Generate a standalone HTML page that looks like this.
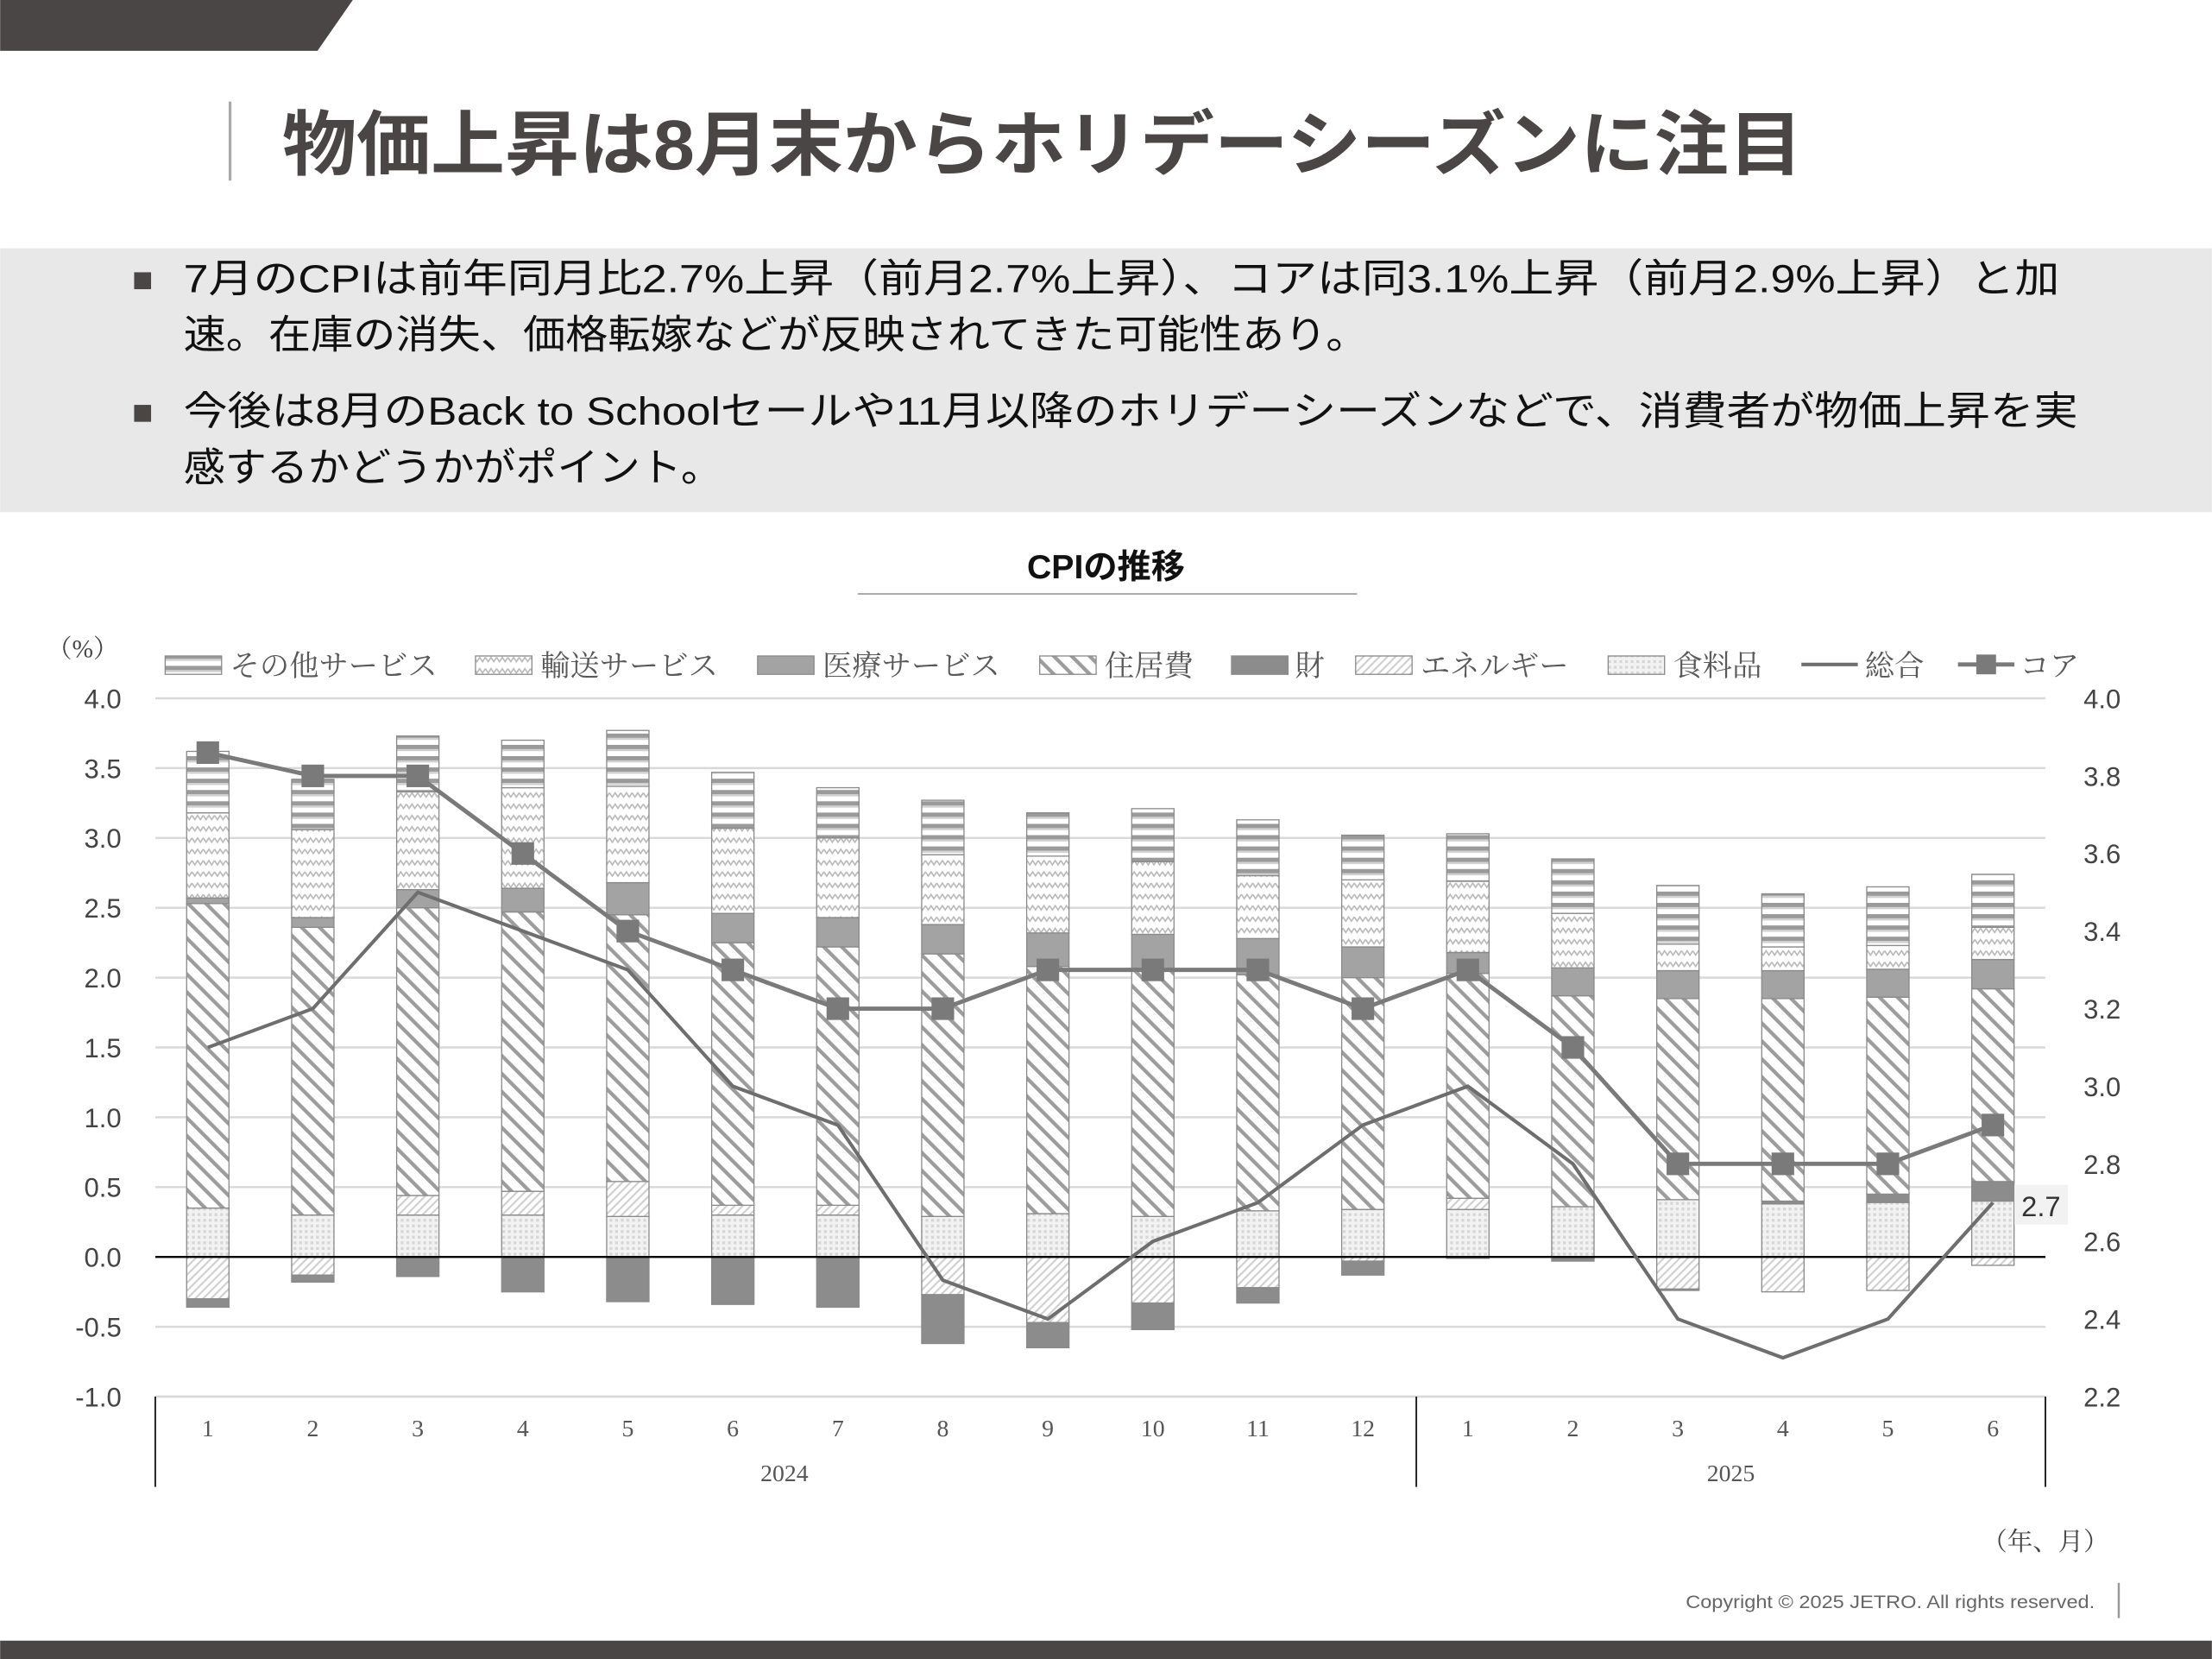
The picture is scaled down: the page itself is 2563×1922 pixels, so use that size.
<!DOCTYPE html>
<html><head><meta charset="utf-8"><style>
html,body{margin:0;padding:0;background:#fff;}
svg{display:block;}
.t{font-family:"Liberation Sans","Noto Sans CJK JP",sans-serif;}
.s{font-family:"Liberation Serif","Noto Serif CJK SC",serif;}
</style></head><body>
<svg id="c" width="2563" height="1922" viewBox="0 0 1568 1176" xmlns="http://www.w3.org/2000/svg">
<defs>
<pattern id="pOther" width="8" height="8" patternUnits="userSpaceOnUse"><rect width="8" height="8" fill="#fff"/><rect y="0" width="8" height="3" fill="#9a9a9a"/><rect y="3" width="8" height="1.5" fill="#d0d0d0"/></pattern>
<pattern id="pTrans" width="8" height="8" patternUnits="userSpaceOnUse"><rect width="8" height="8" fill="#fff"/><path d="M0,2 L2,5 L4,2 L6,5 L8,2" fill="none" stroke="#b8b8b8" stroke-width="1"/></pattern>
<pattern id="pShel" width="9" height="9" patternUnits="userSpaceOnUse" patternTransform="rotate(-45)"><rect width="9" height="9" fill="#fff"/><rect width="2.6" height="9" fill="#9c9c9c"/></pattern>
<pattern id="pEner" width="4" height="4" patternUnits="userSpaceOnUse" patternTransform="rotate(45)"><rect width="4" height="4" fill="#fff"/><rect width="1.3" height="4" fill="#cfcfcf"/></pattern>
<pattern id="pFood" width="4" height="4" patternUnits="userSpaceOnUse"><rect width="4" height="4" fill="#f2f2f2"/><rect width="2" height="2" fill="#d6d6d6"/></pattern>
</defs>
<polygon points="0,0 250,0 225,36 0,36" fill="#4a4646"/>
<line x1="163" y1="72" x2="163" y2="128" stroke="#aaa" stroke-width="2"/>
<text x="200" y="120" class="t" font-size="50" font-weight="bold" fill="#4a4646" textLength="1078" lengthAdjust="spacingAndGlyphs">物価上昇は8月末からホリデーシーズンに注目</text>
<rect x="0" y="176" width="1568" height="187" fill="#e8e8e8"/>
<rect x="95" y="193" width="12" height="12" fill="#4a4646"/>
<rect x="95" y="287" width="12" height="12" fill="#4a4646"/>
<g class="t" font-size="28" fill="#111">
<text x="130" y="207" textLength="1330" lengthAdjust="spacingAndGlyphs">7月のCPIは前年同月比2.7%上昇（前月2.7%上昇）、コアは同3.1%上昇（前月2.9%上昇）と加</text>
<text x="130" y="247" textLength="840" lengthAdjust="spacingAndGlyphs">速。在庫の消失、価格転嫁などが反映されてきた可能性あり。</text>
<text x="130" y="301" textLength="1343" lengthAdjust="spacingAndGlyphs">今後は8月のBack to Schoolセールや11月以降のホリデーシーズンなどで、消費者が物価上昇を実</text>
<text x="130" y="341" textLength="382" lengthAdjust="spacingAndGlyphs">感するかどうかがポイント。</text>
</g>
<text x="784" y="410" class="t" font-size="24" font-weight="bold" text-anchor="middle" fill="#111">CPIの推移</text>
<line x1="608" y1="421" x2="962" y2="421" stroke="#999" stroke-width="1"/>
<text x="33" y="466" class="s" font-size="18" fill="#444">（%）</text>
<g id="grid"></g>
<g id="bars"></g>
<g id="lines"></g>
<g id="legend" class="s" font-size="21" fill="#595959"></g>
<text x="1405" y="1099" class="s" font-size="18" fill="#444">（年、月）</text>
<text x="1485" y="1140" class="t" font-size="13" text-anchor="end" fill="#666" textLength="290" lengthAdjust="spacingAndGlyphs">Copyright © 2025 JETRO. All rights reserved.</text>
<line x1="1502" y1="1122" x2="1502" y2="1147" stroke="#999" stroke-width="1.5"/>
<rect x="0" y="1163" width="1568" height="13" fill="#4a4646"/>
</svg>
<script>
const NS="http://www.w3.org/2000/svg";
function el(p,t,a,txt){const e=document.createElementNS(NS,t);for(const k in a)e.setAttribute(k,a[k]);if(txt!==undefined)e.textContent=txt;document.getElementById(p).appendChild(e);return e;}
const yL=v=>891-99*v, yR=v=>990-(v-2.2)*275;
for(let i=0;i<=10;i++){const v=4-0.5*i;const y=yL(v);
 if(Math.abs(v)>1e-6) el("grid","line",{x1:110,x2:1450,y1:y,y2:y,stroke:"#d9d9d9","stroke-width":1.5});
 el("grid","text",{x:86,y:y+7,"text-anchor":"end","font-size":19,fill:"#444",class:"t"},v.toFixed(1));}
for(let i=0;i<=9;i++){const rv=4-0.2*i;el("grid","text",{x:1477,y:yR(rv)+7,"font-size":19,fill:"#444",class:"t"},rv.toFixed(1));}
el("grid","line",{x1:110,x2:1450,y1:990,y2:990,stroke:"#d9d9d9","stroke-width":1.5});
[110,1004,1450].forEach(x=>el("grid","line",{x1:x,x2:x,y1:990,y2:1054,stroke:"#222","stroke-width":1.2}));
const W=1340/18, cx=i=>110+W*(i+0.5);
const months=[1,2,3,4,5,6,7,8,9,10,11,12,1,2,3,4,5,6];
months.forEach((m,i)=>el("grid","text",{x:cx(i),y:1018,"text-anchor":"middle","font-size":17,fill:"#555",class:"s"},m));
el("grid","text",{x:556,y:1050,"text-anchor":"middle","font-size":17,fill:"#555",class:"s"},"2024");
el("grid","text",{x:1227,y:1050,"text-anchor":"middle","font-size":17,fill:"#555",class:"s"},"2025");
const D=[
[.35,-.30,-.06,2.53,2.57,3.18,3.62],
[.30,-.13,-.05,2.36,2.43,3.06,3.42],
[.30,.14,-.14,2.50,2.63,3.33,3.73],
[.30,.17,-.25,2.47,2.64,3.36,3.70],
[.29,.25,-.32,2.45,2.68,3.37,3.77],
[.30,.07,-.34,2.25,2.46,3.07,3.47],
[.30,.07,-.36,2.22,2.43,3.00,3.36],
[.29,-.27,-.35,2.17,2.38,2.88,3.27],
[.31,-.47,-.18,2.08,2.32,2.87,3.18],
[.29,-.33,-.19,2.05,2.31,2.83,3.21],
[.33,-.22,-.11,2.02,2.28,2.73,3.13],
[.34,-.03,-.10,2.00,2.22,2.70,3.02],
[.34,.08,-.01,2.03,2.18,2.69,3.03],
[.36,-.01,-.02,1.87,2.07,2.46,2.85],
[.41,-.23,-.01,1.85,2.05,2.24,2.66],
[.38,-.25,.02,1.85,2.05,2.22,2.60],
[.39,-.24,.06,1.86,2.06,2.23,2.65],
[.40,-.06,.14,1.92,2.13,2.36,2.74]];
function seg(i,a,b,fill){const lo=Math.min(a,b),hi=Math.max(a,b);if(hi-lo<0.001)return;
 el("bars","rect",{x:cx(i)-15,y:yL(hi),width:30,height:yL(lo)-yL(hi),fill:fill,stroke:"#8a8a8a","stroke-width":0.8});}
D.forEach((d,i)=>{let [f,e,g,sh,md,tr,ot]=d;let pos=0,neg=0;
 seg(i,0,f,"url(#pFood)");pos=f;
 if(e>=0){seg(i,pos,pos+e,"url(#pEner)");pos+=e;}else{seg(i,0,e,"url(#pEner)");neg=e;}
 if(g>=0){seg(i,pos,pos+g,"#8c8c8c");pos+=g;}else{seg(i,neg,neg+g,"#8c8c8c");}
 seg(i,pos,sh,"url(#pShel)");seg(i,sh,md,"#a3a3a3");seg(i,md,tr,"url(#pTrans)");seg(i,tr,ot,"url(#pOther)");});
el("bars","line",{x1:110,x2:1450,y1:891,y2:891,stroke:"#000","stroke-width":1.5});
const H=[3.1,3.2,3.5,3.4,3.3,3.0,2.9,2.5,2.4,2.6,2.7,2.9,3.0,2.8,2.4,2.3,2.4,2.7];
const C=[3.86,3.8,3.8,3.6,3.4,3.3,3.2,3.2,3.3,3.3,3.3,3.2,3.3,3.1,2.8,2.8,2.8,2.9];
el("lines","polyline",{points:H.map((v,i)=>cx(i)+","+yR(v)).join(" "),fill:"none",stroke:"#6e6e6e","stroke-width":2.5});
el("lines","polyline",{points:C.map((v,i)=>cx(i)+","+yR(v)).join(" "),fill:"none",stroke:"#7a7a7a","stroke-width":3});
C.forEach((v,i)=>el("lines","rect",{x:cx(i)-8,y:yR(v)-8,width:16,height:16,fill:"#7a7a7a"}));
el("lines","rect",{x:1428,y:840,width:38,height:28,fill:"#f2f2f2"});
el("lines","text",{x:1433,y:862,"font-size":20,fill:"#333",class:"t"},"2.7");
const L=[[117,163,"url(#pOther)","その他サービス"],[337,383,"url(#pTrans)","輸送サービス"],[537,583,"#a3a3a3","医療サービス"],[737,783,"url(#pShel)","住居費"],[873,918,"#8c8c8c","財"],[961,1007,"url(#pEner)","エネルギー"],[1140,1186,"url(#pFood)","食料品"]];
L.forEach(l=>{el("legend","rect",{x:l[0],y:465,width:40,height:13,fill:l[2],stroke:"#8a8a8a","stroke-width":0.8});el("legend","text",{x:l[1],y:479},l[3]);});
el("legend","line",{x1:1277,x2:1317,y1:471,y2:471,stroke:"#6e6e6e","stroke-width":2.5});
el("legend","text",{x:1322,y:479},"総合");
el("legend","line",{x1:1388,x2:1428,y1:471,y2:471,stroke:"#7a7a7a","stroke-width":3});
el("legend","rect",{x:1401,y:464,width:14,height:14,fill:"#7a7a7a"});
el("legend","text",{x:1432,y:479},"コア");
</script>
</body></html>
